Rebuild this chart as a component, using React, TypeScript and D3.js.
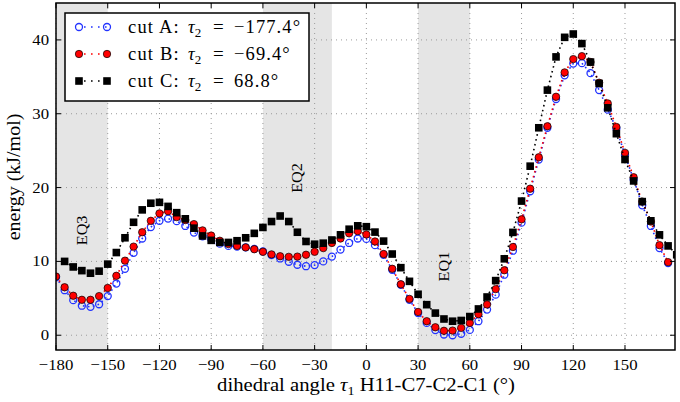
import React from "react";
import * as d3 from "d3";

const angles = [
  -180, -175, -170, -165, -160, -155, -150, -145, -140, -135, -130, -125, -120, -115, -110, -105,
  -100, -95, -90, -85, -80, -75, -70, -65, -60, -55, -50, -45, -40, -35, -30, -25, -20, -15, -10, -5,
  0, 5, 10, 15, 20, 25, 30, 35, 40, 45, 50, 55, 60, 65, 70, 75, 80, 85, 90, 95, 100, 105, 110, 115,
  120, 125, 130, 135, 140, 145, 150, 155, 160, 165, 170, 175, 180,
];

const cutA: (number | null)[] = [
  7.85, 6.1, 4.75, 4.0, 3.85, 4.2, 5.3, 7.0, 9.0, 11.15, 13.1, 14.65, 15.5, 15.8, 15.45, 14.8,
  13.9, 13.4, 13.0, 12.4, 12.1, 12.0, 11.9, 11.7, 11.35, 10.85, 10.4, 9.95, 9.55, 9.35, 9.5, 10.0, 10.65, 11.6, 12.5, 13.1,
  13.05, 12.2, 10.9, 8.87, 6.84, 4.8, 3.0, 1.67, 0.7, 0.1, 0.0, 0.2, 0.72, 1.9, 3.47, 5.5, 8.2, 11.45, 15.25, 19.5, 23.8, 28.1, 32.0, 35.2,
  36.8, 36.85, 35.5, 33.2, 30.55, 28.0, 24.4, 21.1, 17.6, 14.8, 11.8, 9.77, null,
];

const cutB: (number | null)[] = [
  7.95, 6.5, 5.35, 4.8, 4.8, 5.3, 6.4, 8.05, 10.1, 12.0, 13.95, 15.5, 16.5, 16.8, 16.0, 15.6,
  15.05, 14.2, 13.5, 12.8, 12.35, 12.1, 11.9, 11.65, 11.3, 10.95, 10.7, 10.62, 10.65, 10.9, 11.3, 11.8, 12.5, 13.1, 13.8, 14.1,
  13.65, 12.7, 11.0, 9.0, 6.9, 4.92, 3.15, 1.9, 1.08, 0.6, 0.63, 1.0, 1.67, 2.85, 4.17, 6.25, 8.8, 11.95, 15.7, 19.85, 24.1, 28.3, 32.3, 35.6,
  37.4, 37.8, 37.0, 34.2, 31.4, 28.2, 24.7, 21.4, 18.1, 15.4, 12.2, 9.9, null,
];

const cutC: (number | null)[] = [
  null, 10.0, 9.25, 8.75, 8.4, 8.68, 9.63, 11.2, 13.2, 15.3, 16.98, 17.88, 18.0, 17.45, 16.6, 15.77,
  14.5, 13.45, 12.85, 12.57, 12.57, 12.8, 13.2, 13.8, 14.6, 15.4, 16.15, 15.4, 13.95, 12.7, 12.33, 12.47, 12.9, 13.6, 14.36, 14.82,
  14.7, 13.97, 12.75, 11.0, 9.15, 7.3, 5.55, 4.14, 3.0, 2.2, 1.9, 2.0, 2.53, 3.56, 5.18, 7.4, 10.35, 13.93, 18.17, 22.9, 28.1, 33.2, 37.7, 40.35,
  40.8, 39.5, 37.0, 34.1, 30.8, 27.3, 23.8, 20.9, 18.1, 15.5, 13.6, 12.1, 10.9,
];

const xTicks = [-180, -150, -120, -90, -60, -30, 0, 30, 60, 90, 120, 150];
const yTicks = [0, 10, 20, 30, 40];
const regions = [
  { label: "EQ3", from: -180, to: -150, yv: 14.2 },
  { label: "EQ2", from: -60, to: -20, yv: 21.3 },
  { label: "EQ1", from: 30, to: 60, yv: 9.3 },
];
const legendCuts = ["cut A:", "cut B:", "cut C:"];
const legendValues = ["−177.4°", "−69.4°", "68.8°"];

const FONT = "'Liberation Serif', 'DejaVu Serif', serif";
const L = 56, R = 675, T = 3, B = 350;

const x = d3.scaleLinear().domain([-180, 179]).range([L, R]);
const y = d3.scaleLinear().domain([-2, 45]).range([B, T]);

type Pt = { a: number; v: number };
const toPts = (vals: (number | null)[]): Pt[] =>
  angles.map((a, i) => ({ a, v: vals[i] as number })).filter((d, i) => vals[i] !== null);

const line = d3
  .line<Pt>()
  .x((d) => x(d.a))
  .y((d) => y(d.v));

const series = [
  { pts: toPts(cutA), color: "#2233ff", kind: "open" },
  { pts: toPts(cutB), color: "#ff0000", kind: "filled" },
  { pts: toPts(cutC), color: "#000000", kind: "square" },
];

function Marker({ kind, cx, cy, color }: { kind: string; cx: number; cy: number; color: string }) {
  if (kind === "open")
    return <circle cx={cx} cy={cy} r={3.5} fill="none" stroke={color} strokeWidth={1.3} />;
  if (kind === "filled")
    return <circle cx={cx} cy={cy} r={3.7} fill={color} stroke="#000" strokeWidth={0.7} />;
  return <rect x={cx - 3.8} y={cy - 3.8} width={7.6} height={7.6} fill="#000" />;
}

export default function App() {
  return (
    <svg
      width={680}
      height={402}
      style={{ position: "absolute", left: 0, top: 0, background: "#fff" }}
      fontFamily={FONT}
    >
      <defs>
        <clipPath id="plot">
          <rect x={L} y={T} width={R - L} height={B - T} />
        </clipPath>
      </defs>
      <rect x={0} y={0} width={680} height={402} fill="#fff" />
      {regions.map((r) => (
        <rect key={r.label} x={x(r.from)} y={T} width={x(r.to) - x(r.from)} height={B - T} fill="#e5e5e5" />
      ))}
      {xTicks.map((t) => (
        <line key={"gx" + t} x1={x(t)} x2={x(t)} y1={T} y2={B} stroke="#9a9a9a" strokeWidth={1} strokeDasharray="1,4" />
      ))}
      {yTicks.map((t) => (
        <line key={"gy" + t} x1={L} x2={R} y1={y(t)} y2={y(t)} stroke="#9a9a9a" strokeWidth={1} strokeDasharray="1,4" />
      ))}
      {regions.map((r) => {
        const cx = (x(r.from) + x(r.to)) / 2;
        const cy = y(r.yv);
        return (
          <text
            key={"t" + r.label}
            transform={`translate(${cx + 5},${cy}) rotate(-90) scale(1.08,1)`}
            textAnchor="middle"
            fontSize={15}
            fill="#000"
          >
            {r.label}
          </text>
        );
      })}
      <g clipPath="url(#plot)">
        {series.map((s, i) => (
          <g key={"s" + i}>
            <path
              d={line(s.pts) || ""}
              fill="none"
              stroke={s.color}
              strokeWidth={1.6}
              strokeDasharray="1.6,3.4"
            />
            {s.pts.map((p, j) => (
              <Marker key={j} kind={s.kind} cx={x(p.a)} cy={y(p.v)} color={s.color} />
            ))}
          </g>
        ))}
      </g>
      <rect x={L} y={T} width={R - L} height={B - T} fill="none" stroke="#000" strokeWidth={1.5} />
      {xTicks.map((t) => (
        <g key={"tx" + t}>
          <line x1={x(t)} x2={x(t)} y1={B} y2={B - 5} stroke="#000" strokeWidth={1} />
          <line x1={x(t)} x2={x(t)} y1={T} y2={T + 5} stroke="#000" strokeWidth={1} />
          <g transform={`translate(${x(t)},370) scale(1.08,1)`}>
            <text x={0} y={0} textAnchor="middle" fontSize={15.5}>
              {t < 0 ? "−" + Math.abs(t) : String(t)}
            </text>
          </g>
        </g>
      ))}
      {yTicks.map((t) => (
        <g key={"ty" + t}>
          <line x1={L} x2={L + 5} y1={y(t)} y2={y(t)} stroke="#000" strokeWidth={1} />
          <line x1={R} x2={R - 5} y1={y(t)} y2={y(t)} stroke="#000" strokeWidth={1} />
          <g transform={`translate(49,${y(t) + 5}) scale(1.08,1)`}>
            <text x={0} y={0} textAnchor="end" fontSize={15.5}>
              {String(t)}
            </text>
          </g>
        </g>
      ))}
      <g transform="translate(366,391) scale(1.12,1)">
        <text x={0} y={0} textAnchor="middle" fontSize={18.5}>
          dihedral angle <tspan fontStyle="italic">τ</tspan>
          <tspan fontSize={12.5} dy={4}>1</tspan>
          <tspan dy={-4}> H11-C7-C2-C1 (°)</tspan>
        </text>
      </g>
      <g transform="translate(20,177) rotate(-90) scale(1.08,1)">
        <text x={0} y={0} textAnchor="middle" fontSize={18.5}>
          energy (kJ/mol)
        </text>
      </g>
      <rect x={65} y={13} width={244} height={88} fill="#fff" stroke="#000" strokeWidth={1.5} />
      {series.map((s, i) => {
        const cy = [27, 54, 81][i];
        return (
          <g key={"lg" + i}>
            <line x1={79} x2={107} y1={cy} y2={cy} stroke={s.color} strokeWidth={1.6} strokeDasharray="1.6,5.4" strokeDashoffset={-5} />
            <Marker kind={s.kind} cx={79} cy={cy} color={s.color} />
            <Marker kind={s.kind} cx={107} cy={cy} color={s.color} />
            <text y={cy + 6} fontSize={18.5}>
              <tspan x={128} letterSpacing={1.2}>{legendCuts[i]}</tspan>
              <tspan x={188} fontStyle="italic">τ</tspan>
              <tspan fontSize={13} dy={4}>2</tspan>
              <tspan x={213} dy={-4} fontSize={19} transform="scale(1.2,1)">=</tspan>
              <tspan x={234} letterSpacing={1.1}>{legendValues[i]}</tspan>
            </text>
          </g>
        );
      })}
    </svg>
  );
}
